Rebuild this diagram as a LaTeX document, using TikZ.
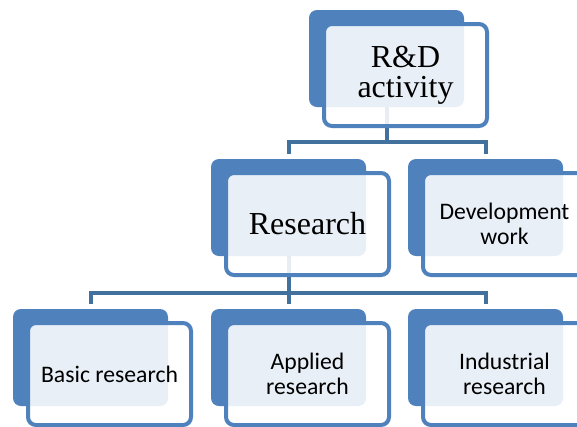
\documentclass[tikz,border=0pt]{standalone}
\usepackage{fontspec}
\setmainfont{Liberation Serif}
\newfontfamily\calib{Carlito}
\usetikzlibrary{positioning,calc}
\definecolor{boxblue}{HTML}{4F81BD}
\definecolor{lineblue}{HTML}{41719C}

\begin{document}
\begin{tikzpicture}[x=1pt,y=-1pt,
    back/.style={fill=boxblue,rounded corners=8pt,minimum width=155pt,minimum height=97pt},
    front/.style={draw=boxblue,line width=4pt,fill=white,fill opacity=0.875,text opacity=1,
      rounded corners=8pt,minimum width=163pt,minimum height=102pt,align=center,inner sep=0pt},
    big/.style={font=\fontsize{32}{30}\selectfont},
    small/.style={font=\calib\fontsize{23.7}{25.5}\selectfont},
    link/.style={draw=lineblue,line width=4pt}]
    \useasboundingbox (0,0) rectangle (577,426);
    \clip (0,0) rectangle (577,426);
    % shadow boxes
    \node[back] (rdb) at (386.5,58.5) {};
    \node[back] (resb) at (288.5,207.5) {};
    \node[back] (devb) at (485.5,207.5) {};
    \node[back] (basb) at (90.5,357.5) {};
    \node[back] (appb) at (288.5,357.5) {};
    \node[back] (indb) at (485.5,357.5) {};
    % tree lines
    \draw[link] (rdb.south) -- ++(0,35) coordinate (j1);
    \draw[link] ($(resb.north)+(0,-5)$) |- (j1) -| ($(devb.north)+(0,-5)$);
    \draw[link] (resb.south) -- ++(0,37) coordinate (j2);
    \draw[link] ($(basb.north)+(0,-5)$) |- (j2) -| ($(indb.north)+(0,-5)$);
    \draw[link] (j2) -- ($(appb.north)+(0,-5)$);
    % text boxes
    \node[front,big] (rd) at ($(rdb)+(19,16.5)$) {R\&D\\activity};
    \node[front,big] (res) at ($(resb)+(19,16.5)$) {Research};
    \node[front,small] (dev) at ($(devb)+(19,16.5)$) {Development\\work};
    \node[front,small] (bas) at ($(basb)+(19,16.5)$) {Basic research};
    \node[front,small] (app) at ($(appb)+(19,16.5)$) {Applied\\research};
    \node[front,small] (ind) at ($(indb)+(19,16.5)$) {Industrial\\research};
  \end{tikzpicture}
\end{document}
